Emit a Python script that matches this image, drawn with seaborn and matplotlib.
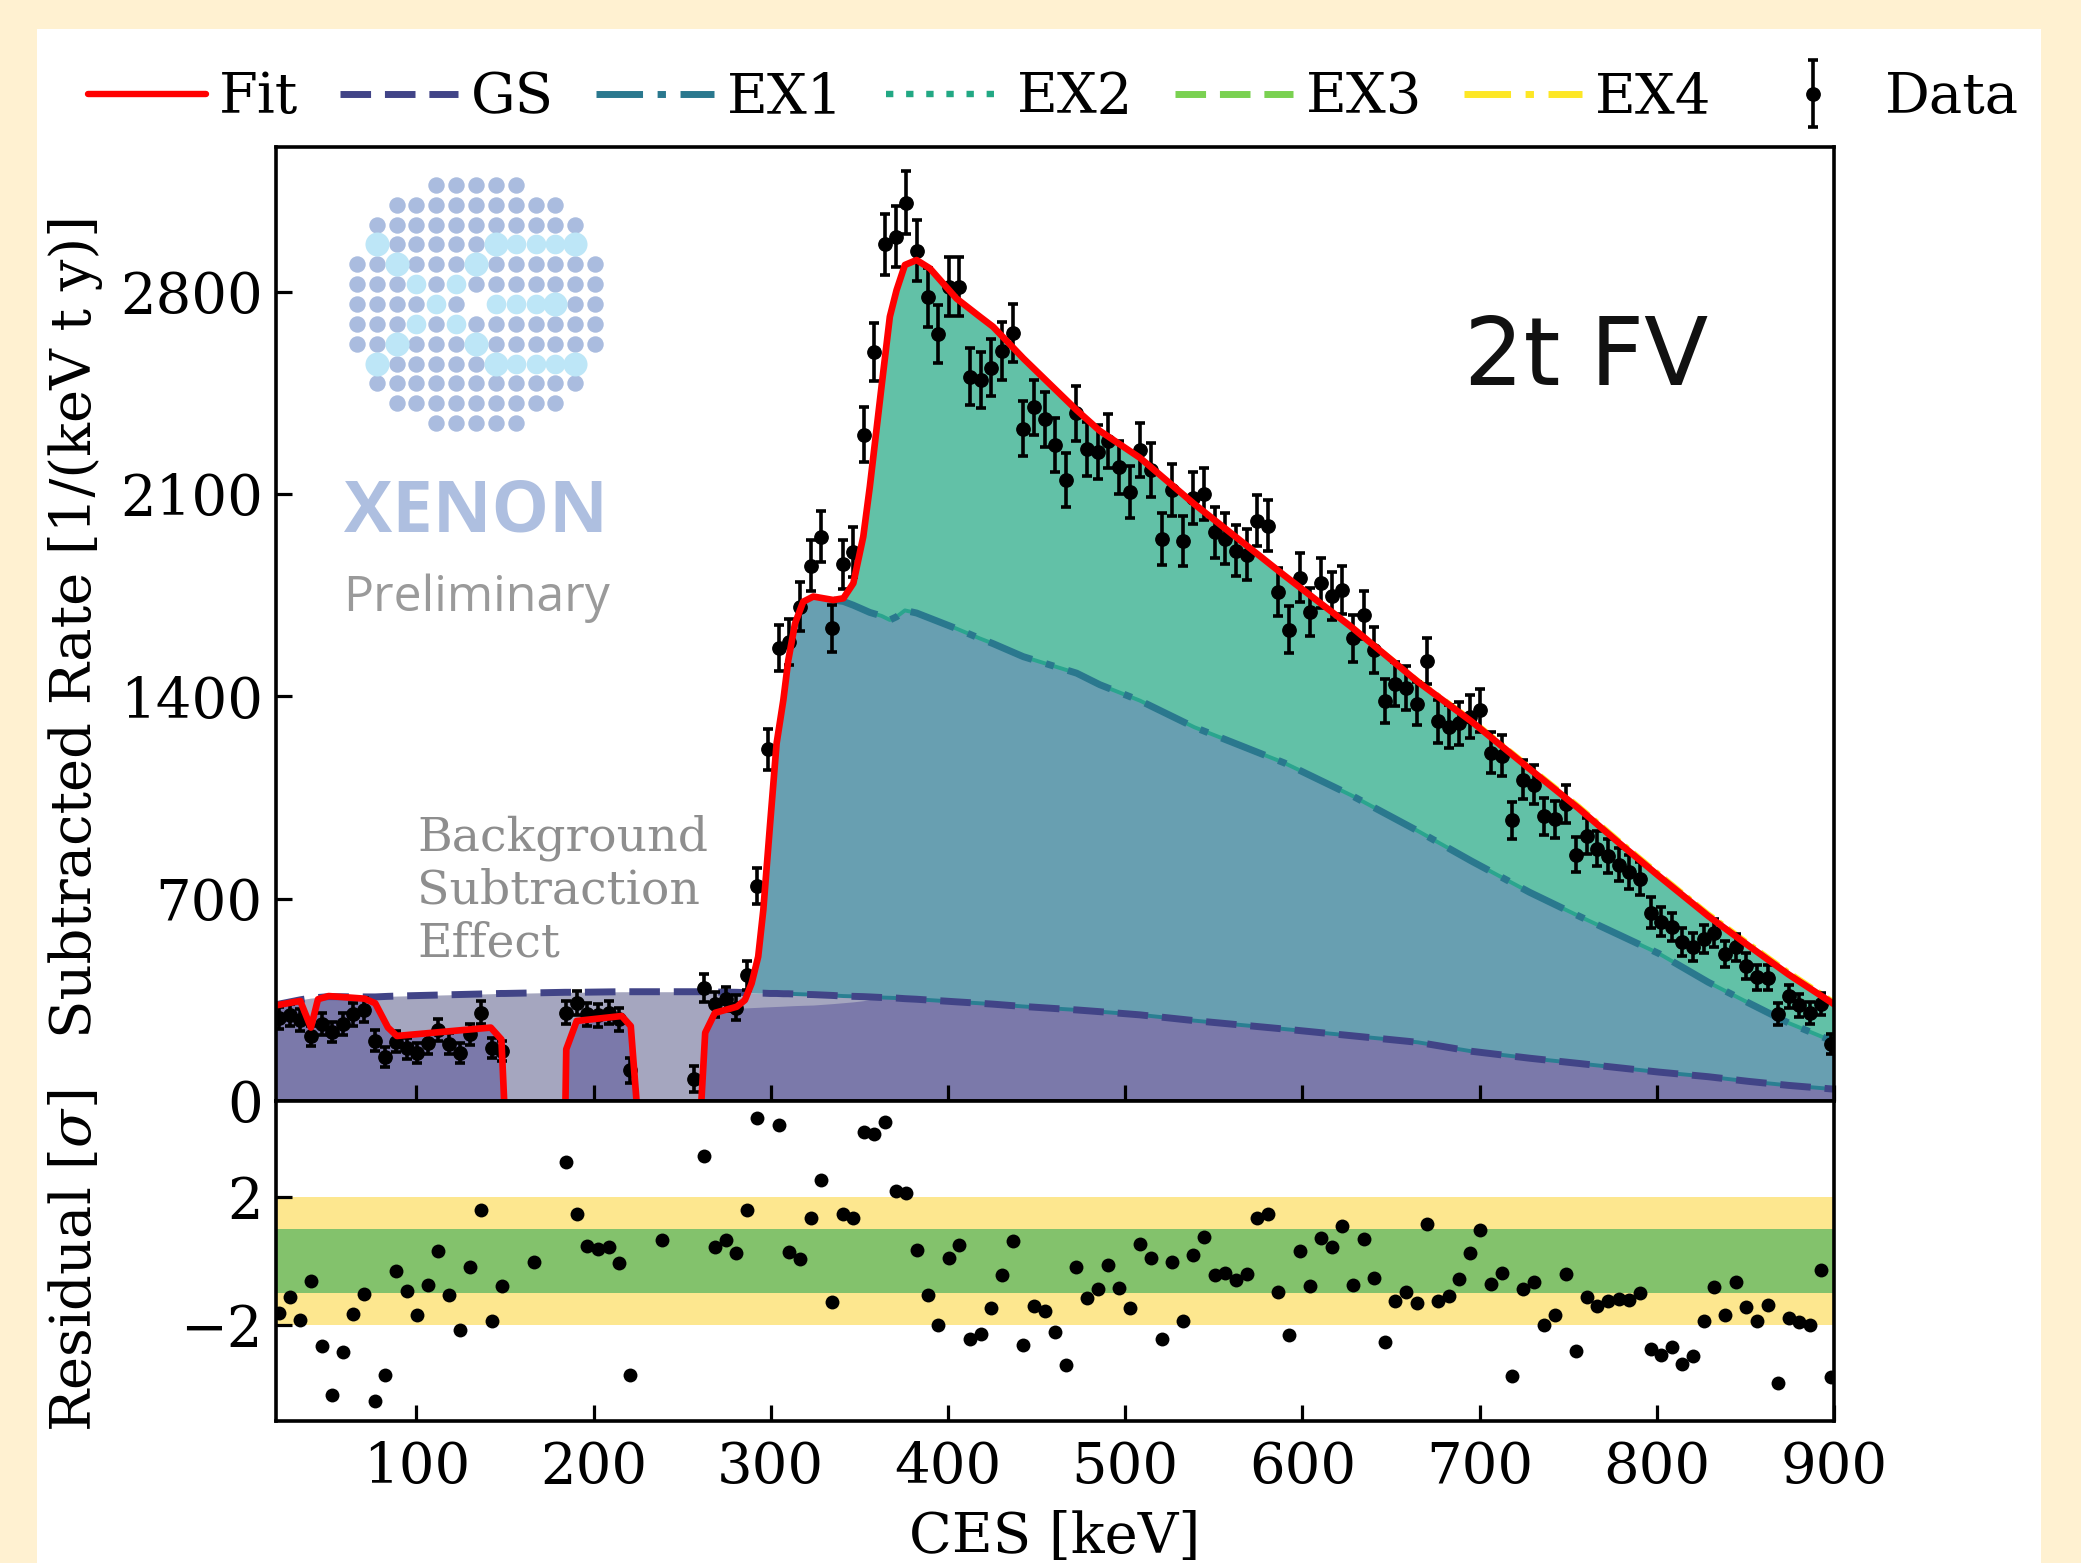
import numpy as np
import pandas as pd
import seaborn as sns
import matplotlib
matplotlib.use("Agg")
import matplotlib.pyplot as plt
from matplotlib.container import ErrorbarContainer
from matplotlib.legend_handler import HandlerErrorbar
from matplotlib.patches import Rectangle

# data points, upper panel
data_kev = [22.5, 28.5, 34.5, 40.5, 46.5, 52.5, 58.5, 64.5, 70.5, 76.5, 82.5, 88.5, 94.5, 100.5, 106.5, 112.5,
            118.5, 124.5, 130.5, 136.5, 142.5, 148.5, 184.5, 190.5, 196.5, 202.5, 208.5, 214.5, 220.5, 256.5,
            262.5, 268.5, 274.5, 280.5, 286.5, 292.5, 298.5, 304.5, 310.5, 316.5, 322.5, 328.5, 334.5, 340.5,
            346.5, 352.5, 358.5, 364.5, 370.5, 376.5, 382.5, 388.5, 394.5, 400.5, 406.5, 412.5, 418.5, 424.5,
            430.5, 436.5, 442.5, 448.5, 454.5, 460.5, 466.5, 472.5, 478.5, 484.5, 490.5, 496.5, 502.5, 508.5,
            514.5, 520.5, 526.5, 532.5, 538.5, 544.5, 550.5, 556.5, 562.5, 568.5, 574.5, 580.5, 586.5, 592.5,
            598.5, 604.5, 610.5, 616.5, 622.5, 628.5, 634.5, 640.5, 646.5, 652.5, 658.5, 664.5, 670.5, 676.5,
            682.5, 688.5, 694.5, 700.5, 706.5, 712.5, 718.5, 724.5, 730.5, 736.5, 742.5, 748.5, 754.5, 760.5,
            766.5, 772.5, 778.5, 784.5, 790.5, 796.5, 802.5, 808.5, 814.5, 820.5, 826.5, 832.5, 838.5, 844.5,
            850.5, 856.5, 862.5, 868.5, 874.5, 880.5, 886.5, 892.5, 898.5]
data_rate = [288, 296, 280, 225, 265, 239, 265, 300, 315, 208, 152, 205, 182, 165, 199, 246,
             198, 167, 231, 306, 184, 173, 306, 338, 300, 296, 306, 282, 106, 75,
             392, 334, 352, 323, 435, 744, 1216, 1566, 1589, 1710, 1852, 1952, 1635, 1856,
             1900, 2304, 2592, 2963, 2990, 3108, 2941, 2780, 2653, 2817, 2817, 2505, 2494, 2537,
             2594, 2658, 2326, 2399, 2358, 2269, 2148, 2379, 2255, 2246, 2284, 2192, 2108, 2252,
             2183, 1943, 2113, 1937, 2085, 2100, 1967, 1945, 1904, 1890, 2008, 1990, 1760, 1630,
             1810, 1693, 1792, 1747, 1767, 1600, 1680, 1559, 1384, 1443, 1429, 1375, 1521, 1313,
             1295, 1306, 1330, 1351, 1204, 1194, 971, 1111, 1094, 985, 974, 1026, 852, 916,
             873, 848, 818, 793, 769, 652, 620, 602, 551, 533, 561, 581, 509, 531,
             468, 428, 427, 301, 362, 331, 305, 335, 198]
data_err = [38, 38, 38, 36, 38, 36, 38, 39, 40, 36, 34, 36, 35, 34, 36, 37,
            36, 35, 37, 40, 35, 35, 40, 41, 39, 39, 40, 39, 43, 45,
            48, 42, 42, 42, 50, 62, 72, 80, 80, 84, 87, 88, 82, 86,
            87, 95, 100, 106, 106, 108, 105, 103, 100, 103, 103, 98, 98, 98,
            99, 100, 95, 96, 95, 94, 92, 95, 94, 93, 94, 92, 90, 93,
            92, 90, 90, 88, 90, 90, 88, 88, 87, 87, 89, 88, 84, 82,
            85, 83, 85, 84, 84, 81, 83, 80, 76, 77, 77, 75, 79, 74,
            74, 74, 74, 75, 71, 71, 64, 68, 68, 64, 64, 66, 60, 62,
            60, 60, 58, 58, 57, 52, 50, 50, 48, 48, 49, 50, 46, 47,
            45, 43, 43, 38, 40, 39, 38, 39, 34]

# residual panel
resid_kev = [22.5, 28.5, 34.5, 40.5, 46.5, 52.5, 58.5, 64.5, 70.5, 76.5, 82.5, 88.5, 94.5, 100.5, 106.5, 112.5,
             118.5, 124.5, 130.5, 136.5, 142.5, 148.5, 166.5, 184.5, 190.5, 196.5, 202.5, 208.5, 214.5, 220.5,
             238.5, 262.5, 268.5, 274.5, 280.5, 286.5, 292.5, 304.5, 310.5, 316.5, 322.5, 328.5, 334.5, 340.5,
             346.5, 352.5, 358.5, 364.5, 370.5, 376.5, 382.5, 388.5, 394.5, 400.5, 406.5, 412.5, 418.5, 424.5,
             430.5, 436.5, 442.5, 448.5, 454.5, 460.5, 466.5, 472.5, 478.5, 484.5, 490.5, 496.5, 502.5, 508.5,
             514.5, 520.5, 526.5, 532.5, 538.5, 544.5, 550.5, 556.5, 562.5, 568.5, 574.5, 580.5, 586.5, 592.5,
             598.5, 604.5, 610.5, 616.5, 622.5, 628.5, 634.5, 640.5, 646.5, 652.5, 658.5, 664.5, 670.5, 676.5,
             682.5, 688.5, 694.5, 700.5, 706.5, 712.5, 718.5, 724.5, 730.5, 736.5, 742.5, 748.5, 754.5, 760.5,
             766.5, 772.5, 778.5, 784.5, 790.5, 796.5, 802.5, 808.5, 814.5, 820.5, 826.5, 832.5, 838.5, 844.5,
             850.5, 856.5, 862.5, 868.5, 874.5, 880.5, 886.5, 892.5, 898.5]
resid_sigma = [-1.61, -1.13, -1.85, -0.63, -2.65, -4.18, -2.83, -1.66, -1.02, -4.36, -3.57, -0.31, -0.95, -1.69, -0.75, 0.31,
               -1.05, -2.15, -0.20, 1.58, -1.87, -0.77, -0.03, 3.08, 1.48, 0.48, 0.39, 0.43, -0.05, -3.57,
               0.66, 3.29, 0.44, 0.66, 0.24, 1.60, 4.48, 4.25, 0.29, 0.05, 1.33, 2.53, -1.28, 1.48,
               1.35, 4.03, 3.96, 4.35, 2.20, 2.13, 0.34, -1.05, -2.00, 0.08, 0.50, -2.45, -2.27, -1.46,
               -0.44, 0.62, -2.63, -1.41, -1.56, -2.21, -3.26, -0.19, -1.15, -0.89, -0.12, -0.83, -1.48, 0.52,
               0.09, -2.43, -0.03, -1.88, 0.20, 0.75, -0.45, -0.37, -0.58, -0.40, 1.33, 1.48, -0.96, -2.31,
               0.31, -0.79, 0.73, 0.44, 1.10, -0.74, 0.69, -0.53, -2.52, -1.25, -0.97, -1.30, 1.16, -1.25,
               -1.08, -0.55, 0.25, 0.96, -0.71, -0.37, -3.60, -0.86, -0.66, -2.00, -1.68, -0.40, -2.80, -1.14,
               -1.41, -1.26, -1.20, -1.21, -1.01, -2.75, -2.93, -2.70, -3.23, -2.98, -1.87, -0.82, -1.69, -0.65,
               -1.45, -1.86, -1.38, -3.80, -1.77, -1.92, -2.00, -0.27, -3.63]

# curves; the fit dips below zero where it leaves the axes
curve_kev = [20, 34.5, 40.5, 44.5, 50.5, 70.8, 76.8, 84, 89, 142, 148, 150, 184, 184.6, 190.5, 215.9, 221, 225,
             260.3, 263, 268.5, 280.8, 285.4, 289.2, 292.9, 295.8, 299.5, 303.3, 307.1, 309.9, 313.7, 318.3, 324,
             335.3, 341, 346.6, 352.2, 355.9, 362.5, 367.2, 371, 375.7, 382.3, 389.8, 397.3, 404.8, 418, 425.5, 442.5,
             472.6, 485.7, 508.3, 539, 589.6, 627.4, 665.2, 695.4, 728.2, 755.9, 778.6, 801.2, 829, 851.6, 874.3, 900]
fit_top = [330, 346, 254, 352, 363, 354, 338, 254, 225, 254, 213, -60, -60, 179, 277, 294, 259, -60,
           -60, 236, 305, 326, 349, 407, 499, 661, 949, 1237, 1387, 1525, 1652, 1727, 1745,
           1733, 1739, 1791, 1952, 2125, 2471, 2713, 2805, 2892, 2909, 2880, 2828, 2776, 2713, 2678, 2569,
           2390, 2318, 2225, 2065, 1819, 1641, 1450, 1313, 1149, 1012, 893, 778, 640, 538, 438, 335]
gs_top = [332, 350, 356, 358, 361, 360, 360, 362, 363, 371, 372, 372, 376, 376, 376, 378, 378, 378,
          378, 378, 377, 376, 375, 374, 373, 373, 372, 372, 371, 371, 370, 369, 368,
          365, 363, 362, 361, 360, 358, 357, 356, 354, 352, 349, 346, 343, 338, 335, 327,
          315, 309, 298, 278, 249, 226, 203, 172, 148, 130, 115, 100, 84, 68, 54, 41]
ex1_top = [332, 350, 356, 358, 361, 360, 360, 362, 363, 371, 372, 372, 376, 376, 376, 378, 378, 378,
           378, 378, 377, 376, 375, 407, 499, 661, 949, 1237, 1387, 1525, 1652, 1727, 1745,
           1733, 1728, 1715, 1700, 1690, 1678, 1664, 1675, 1697, 1688, 1670, 1652, 1634, 1600, 1582, 1537,
           1480, 1440, 1385, 1293, 1170, 1058, 934, 830, 722, 640, 575, 510, 411, 340, 270, 205]
floor_top = [330, 346, 254, 352, 361, 354, 338, 254, 225, 254, 213, 0, 0, 179, 277, 294, 259, 0,
             0, 236, 305, 322, 322, 323, 324, 325, 326, 327, 328, 329, 330, 331, 332,
             337, 340, 343, 347, 351, 358, 357, 356, 354, 352, 349, 346, 343, 338, 335, 327,
             315, 309, 298, 278, 249, 226, 203, 172, 148, 130, 115, 100, 84, 68, 54, 41]
# the highest excited states only just show along the fit at the high end
ex4_kev = [627.4, 665.2, 695.4, 728.2, 755.9, 778.6, 801.2, 829, 851.6, 874.3, 900]
ex3_top = [1641, 1450, 1313, 1149, 1012, 893, 778, 640, 538, 438, 335]
ex4_top = [1647, 1458, 1323, 1160, 1024, 905, 790, 652, 550, 450, 346]

# logo rows (detector pattern): first/last column per row
logo_row = [-6, -5, -4, -3, -2, -1, 0, 1, 2, 3, 4, 5, 6]
logo_half = [2, 4, 5, 5, 6, 6, 6, 6, 6, 5, 5, 4, 2]
logo_big = [(-5, 3), (1, 3), (5, 3), (-4, 2), (0, 2), (-5, -3), (1, -3), (5, -3), (-4, -2), (0, -2), (4, 0)]
logo_mid = [(2, 3), (3, 3), (4, 3), (-3, 1), (-1, 1), (-2, 0), (1, 0), (2, 0), (3, 0), (-3, -1), (-1, -1),
            (2, -3), (3, -3), (4, -3)]

W, H = 2081, 1563
FS = 40.3
DASH = (0, (4.4, 2))
DASHDOT = (0, (6.7, 2.1, 1.2, 2.1))
DOTS = (0, (1.15, 2))

sns.set_theme(style="ticks", rc={"text.color": "black", "axes.labelcolor": "black", "axes.edgecolor": "black",
                                 "xtick.color": "black", "ytick.color": "black"})
plt.rcParams["font.family"] = "DejaVu Serif"
plt.rcParams["mathtext.fontset"] = "dejavuserif"
plt.rcParams["axes.linewidth"] = 2.6

fig = plt.figure(figsize=(W / 100, H / 100), dpi=100, facecolor="#fff1d1")
fig.patches.append(Rectangle((37 / W, 0), (2041 - 37) / W, 1 - 29 / H, transform=fig.transFigure,
                             facecolor="white", edgecolor="none", zorder=-10))

ax = fig.add_axes([276 / W, 1 - 1101 / H, 1558 / W, 954 / H])
ax_r = fig.add_axes([276 / W, 1 - 1421 / H, 1558 / W, 320 / H])
ax.set_axisbelow(False)
ax_r.set_axisbelow(False)

curves = pd.DataFrame({"kev": curve_kev, "fit": fit_top, "gs": gs_top, "ex1": ex1_top, "floor": floor_top})
k = curves["kev"].to_numpy()

# filled components
ax.fill_between(k, 0, curves["gs"], color="#a5a6bf", lw=0, zorder=1)
ax.fill_between(k, 0, curves["floor"], color="#7b79aa", lw=0, zorder=1.1)
ax.fill_between(k, curves["gs"], curves["ex1"], where=k >= 285.4, color="#689fb1", lw=0, zorder=1.2)
ax.fill_between(k, curves["ex1"], curves["fit"], where=k >= 335.3, color="#62c1a7", lw=0, zorder=1.2)

upper = curves[curves["kev"] >= 335]
sns.lineplot(data=upper, x="kev", y="ex1", ax=ax, color="#2aa58e", lw=2.8, estimator=None, legend=False, zorder=2)
sns.lineplot(data=curves[curves["kev"] >= 297], x="kev", y="gs", ax=ax, color="#2a7f92", lw=2.8,
             estimator=None, legend=False, zorder=2)
sns.lineplot(data=curves, x="kev", y="gs", ax=ax, color="#414487", lw=5, linestyle=DASH,
             estimator=None, legend=False, zorder=2.1, label="GS")
sns.lineplot(data=upper, x="kev", y="ex1", ax=ax, color="#2a788e", lw=5, linestyle=DASHDOT,
             estimator=None, legend=False, zorder=2.1, label="EX1")
sns.lineplot(data=upper, x="kev", y="fit", ax=ax, color="#22a884", lw=2.4, linestyle=DOTS,
             estimator=None, legend=False, zorder=2.1, label="EX2")
sns.lineplot(x=ex4_kev, y=ex3_top, ax=ax, color="#7ad151", lw=2.4, linestyle=DASH,
             estimator=None, legend=False, zorder=2.1, label="EX3")
sns.lineplot(x=ex4_kev, y=ex4_top, ax=ax, color="#fde725", lw=2.4, linestyle=DASHDOT,
             estimator=None, legend=False, zorder=2.2, label="EX4")

eb = ax.errorbar(data_kev, data_rate, yerr=data_err, fmt="o", color="black", ms=9.6, elinewidth=2.6,
                 capsize=3.4, capthick=2.6, zorder=3, label="Data")
sns.lineplot(data=curves, x="kev", y="fit", ax=ax, color="#ff0000", lw=4.8, estimator=None, legend=False,
             zorder=4, label="Fit")

ax.set_xlim(20.8, 900)
ax.set_ylim(0, 3300)
ax.set_xticks(range(100, 901, 100))
ax.set_yticks(range(0, 2801, 700))
ax.set_xlabel("")
ax.set_ylabel("Subtracted Rate [1/(keV t y)]", fontsize=FS)
ax.yaxis.set_label_coords(-0.111, 0.497)
ax.tick_params(axis="both", direction="in", length=11.5, width=2.3, labelsize=FS, pad=14)
ax.tick_params(axis="y", pad=9.5)
ax.tick_params(axis="x", labelbottom=False)
for s in ax.spines.values():
    s.set_zorder(6)

# residuals
ax_r.axhspan(-2, 2, color="#fde78f", lw=0, zorder=1)
ax_r.axhspan(-1, 1, color="#83c26c", lw=0, zorder=1.1)
sns.scatterplot(x=resid_kev, y=resid_sigma, ax=ax_r, color="black", s=100, linewidth=0, zorder=3, legend=False)
ax_r.set_xlim(20.8, 900)
ax_r.set_ylim(-5, 5)
ax_r.set_xticks(range(100, 901, 100))
ax_r.set_yticks([-2, 2])
ax_r.tick_params(axis="both", direction="in", length=11.5, width=2.3, labelsize=FS, pad=14)
ax_r.tick_params(axis="y", pad=9.5)
ax_r.set_xlabel("CES [keV]", fontsize=FS, labelpad=11)
ax_r.set_ylabel(r"Residual [$\sigma$]", fontsize=FS)
ax_r.yaxis.set_label_coords(-0.111, 0.5)

# annotations inside the top panel
fig.text(1586 / W, 1 - 359 / H, "2t FV", fontsize=67.5, family="DejaVu Sans", ha="center", va="center", color="#111111")
ax.text(100.5, 992, "Background\nSubtraction\nEffect", fontsize=34, color="#8e8e8e", va="top", ha="left",
        linespacing=1.21)
fig.text(476 / W, 1 - 531 / H, "XENON", fontsize=52, family="Open Sans", weight="bold", color="#aebfe0",
         ha="center", va="baseline")
fig.text(476 / W, 1 - 611 / H, "Preliminary", fontsize=36, family="Open Sans", color="#9a9a9a",
         ha="center", va="baseline")

# detector logo in its own small axes
ax_logo = fig.add_axes([(476 - 139) / W, 1 - (304 + 139) / H, 278 / W, 278 / H])
ax_logo.set_xlim(-7, 7)
ax_logo.set_ylim(-7, 7)
ax_logo.axis("off")
ax_logo.patch.set_alpha(0)
specials = set(logo_big) | set(logo_mid) | {(0, 0)}
dark = [(c, r) for r, h in zip(logo_row, logo_half) for c in range(-h, h + 1) if (c, r) not in specials]
sns.scatterplot(x=[p[0] for p in dark], y=[p[1] for p in dark], ax=ax_logo, color="#aabcdf", s=140, linewidth=0, legend=False)
sns.scatterplot(x=[p[0] for p in logo_mid], y=[p[1] for p in logo_mid], ax=ax_logo, color="#bde6f7", s=200, linewidth=0, legend=False)
sns.scatterplot(x=[p[0] for p in logo_big], y=[p[1] for p in logo_big], ax=ax_logo, color="#bde6f7", s=300, linewidth=0, legend=False)
ax_logo.set_xlabel("")
ax_logo.set_ylabel("")

# legend across the top
handles, labels = ax.get_legend_handles_labels()
by_label = dict(zip(labels, handles))
order = ["Fit", "GS", "EX1", "EX2", "EX3", "EX4", "Data"]
leg = fig.legend([by_label[n] for n in order], order, ncol=7, frameon=False, fontsize=FS,
                 loc="center left", bbox_to_anchor=(88 / W, 1 - 98 / H), borderpad=0, borderaxespad=0,
                 handlelength=2.1, handletextpad=0.24, columnspacing=0.75,
                 handler_map={ErrorbarContainer: HandlerErrorbar(yerr_size=0.6)})
# legend keys are drawn heavier than the thin traces along the fit
for h, width in zip(leg.legend_handles[:6], [4.6, 5, 5, 4.6, 5, 5]):
    h.set_linewidth(width)

fig.savefig("out.png", dpi=100, facecolor=fig.get_facecolor())
